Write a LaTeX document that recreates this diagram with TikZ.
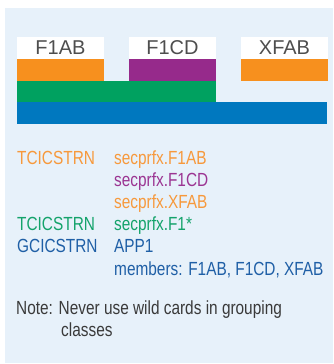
\documentclass[tikz,border=0pt]{standalone}
\usepackage{fontspec}
\setmainfont{Liberation Sans}
\newfontfamily\condfont[FakeStretch=0.81]{Liberation Sans}

\definecolor{bgblue}{HTML}{E7F1FA}
\definecolor{barorange}{HTML}{F7901E}
\definecolor{barpurple}{HTML}{962A8B}
\definecolor{bargreen}{HTML}{00A160}
\definecolor{barblue}{HTML}{0078BF}
\definecolor{txtorange}{HTML}{F7993C}
\definecolor{txtpurple}{HTML}{9B3592}
\definecolor{txtgreen}{HTML}{14A36B}
\definecolor{txtblue}{HTML}{1F5FA6}
\definecolor{txtgrey}{HTML}{3A3A3A}

\begin{document}
\begin{tikzpicture}[x=1pt,y=-1pt,
  every node/.style={inner sep=0pt},
  hdr/.style={text=txtgrey!90,font=\fontsize{20}{24}\selectfont},
  txt/.style={anchor=base west,font=\condfont\fontsize{19}{22}\selectfont}]

\useasboundingbox(0,0) rectangle (333,364);
\fill[bgblue](5,8) rectangle (333,363);

% label boxes
\fill[white](17,37) rectangle (104,59);
\fill[white](129,37) rectangle (216,59);
\fill[white](241,37) rectangle (328,59);

\draw(60.5,48)node[hdr](hdfab){F1AB};
\draw(172.5,48)node[hdr](hdfcd){F1CD};
\draw(284.5,48)node[hdr](hdxfab){XFAB};

% bars
\fill[barorange](17,59) rectangle (104,80.5);
\fill[barpurple](129,59) rectangle (216,80.5);
\fill[barorange](241,59) rectangle (328,81);
\fill[bargreen](17,80.5) rectangle (216,102);
\fill[barblue](17,102) rectangle (327,124);

% profiles
\node[txt,text=txtorange](cls1) at (17,164){TCICSTRN};
\node[txt,text=txtorange](res1) at (114,164){secprfx.F1AB};
\node[txt,text=txtpurple](res2) at (114,186){secprfx.F1CD};
\node[txt,text=txtorange](res3) at (114,208){secprfx.XFAB};
\node[txt,text=txtgreen](cls2) at (17,230){TCICSTRN};
\node[txt,text=txtgreen](res4) at (114,230){secprfx.F1*};
\node[txt,text=txtblue](cls3) at (17,252){GCICSTRN};
\node[txt,text=txtblue](res5) at (114,252){APP1};
\node[txt,text=txtblue](mem) at (114,275){members: F1AB, F1CD, XFAB};

% note
\node[txt,text=txtgrey](note1) at (16,314){Note: Never use wild cards in grouping};
\node[txt,text=txtgrey](note2) at (61,336){classes};

\end{tikzpicture}
\end{document}
